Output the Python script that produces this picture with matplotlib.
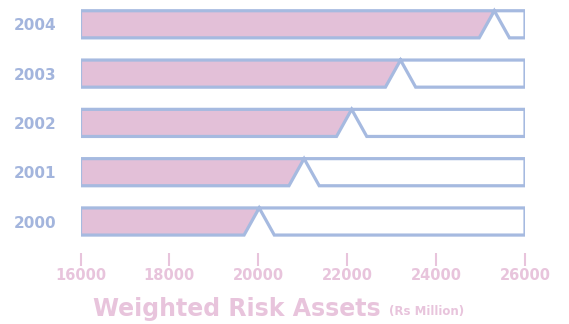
import matplotlib
matplotlib.use("Agg")
import matplotlib.pyplot as plt
from matplotlib.patches import Polygon

years = ["2000", "2001", "2002", "2003", "2004"]
values = [20020, 21030, 22100, 23200, 25310]
x_ticks = [16000, 18000, 20000, 22000, 24000, 26000]
x_min, x_max = 16000, 26000

outline = "#a6bae0"
fill = "#e3c0d8"
year_col = "#a3b5dd"
pink_txt = "#e8c4dc"

W, H = 569, 324
fig = plt.figure(figsize=(W / 100, H / 100), dpi=100)
left_px, right_px = 80.5, 525
top_px, bot_px = 5, 240
ax = fig.add_axes([left_px / W, 1 - bot_px / H, (right_px - left_px) / W, (bot_px - top_px) / H])
ax.spines["bottom"].set_position(("outward", 9))
for s in ["top", "right", "left", "bottom"]:
    ax.spines[s].set_visible(False)
ax.set_xlim(x_min, x_max)
sp = 49.3
y0px = 221.5
ax.set_ylim((y0px - bot_px) / sp, (y0px - top_px) / sp)

half = 0.275
notch = 340  # half-width of notch at the bottom, data units
for i, (yr, v) in enumerate(zip(years, values)):
    top = i + half
    bot = i - half
    fill_poly = Polygon([(x_min, bot), (x_min, top), (v, top), (v - notch, bot)],
                        closed=True, facecolor=fill, edgecolor="none", zorder=1)
    ax.add_patch(fill_poly)
    out_poly = Polygon([(v - notch, bot), (x_min, bot), (x_min, top), (x_max, top),
                        (x_max, bot), (v + notch, bot), (v, top)],
                       closed=True, facecolor="none", edgecolor=outline, lw=2.3,
                       joinstyle="miter", zorder=2)
    ax.add_patch(out_poly)

ax.set_yticks(range(len(years)))
ax.tick_params(axis="y", length=0, pad=17.5)
ax.set_yticklabels(years, color=year_col, fontsize=11, fontweight="bold")

ax.set_xticks(x_ticks)
ax.tick_params(axis="x", direction="out", length=9, width=1.5, color=pink_txt, pad=2.5)
ax.set_xticklabels([str(t) for t in x_ticks], color=pink_txt, fontsize=10.5,
                   fontweight="bold")

fig.text(93 / W, 1 - 309 / H, "Weighted Risk Assets", color=pink_txt, fontsize=17,
         fontweight="bold", ha="left", va="center")
fig.text(389 / W, 1 - 311 / H, "(Rs Million)", color=pink_txt, fontsize=8.5,
         fontweight="bold", ha="left", va="center")

fig.savefig("out.png", dpi=100)
